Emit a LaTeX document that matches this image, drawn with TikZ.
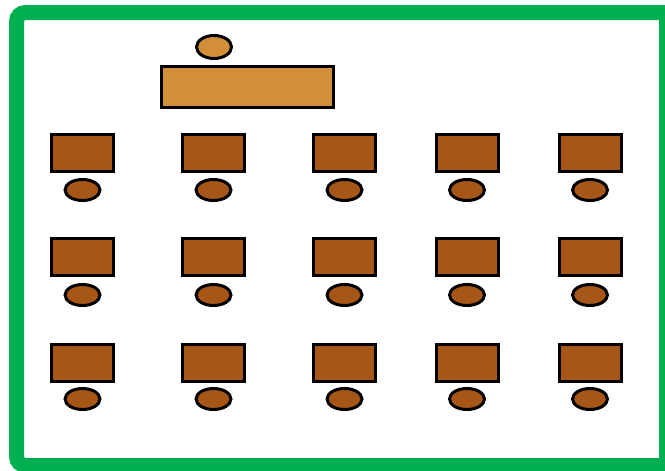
\documentclass[tikz,border=0pt]{standalone}
\usetikzlibrary{shapes.geometric}
\definecolor{boardgreen}{RGB}{0,176,80}
\definecolor{deskbrown}{RGB}{166,86,23}
\definecolor{teachertan}{RGB}{211,143,56}
\tikzset{
  desk/.style={draw=black, line width=3pt, fill=deskbrown, rectangle, inner sep=0pt, minimum width=62pt, minimum height=37pt},
  chair/.style={draw=black, line width=3pt, fill=deskbrown, ellipse, inner sep=0pt, minimum width=35pt, minimum height=21pt},
  tdesk/.style={draw=black, line width=3pt, fill=teachertan, rectangle, inner sep=0pt, minimum width=172pt, minimum height=41pt},
  tchair/.style={draw=black, line width=3pt, fill=teachertan, ellipse, inner sep=0pt, minimum width=35pt, minimum height=23pt},
  wall/.style={draw=boardgreen, line width=15pt}
}
\begin{document}
\begin{tikzpicture}[x=1pt, y=-1pt]
\useasboundingbox (0,0) rectangle (665,471);
\fill[white] (0,0) rectangle (665,471);
\draw[wall] (680,12.5) -- (680,12.5) [rounded corners=0pt] -- (666,12.5) -- (666,465.5) -- (680,465.5);
\draw[wall] (666,12.5) [rounded corners=9pt] -- (16.5,12.5) -- (16.5,465.5) [rounded corners=0pt] -- (666,465.5);
\node[tchair] (tc) at (214,47) {};
\node[tdesk] (td) at (247.5,87) {};
\foreach \c/\x in {1/82.5,2/213.5,3/344.5,4/467,5/590}{
  \foreach \r/\dy/\cy in {1/153/190,2/257/295,3/362.5/399}{
    \node[desk] (d\r\c) at (\x,\dy) {};
    \node[chair] (c\r\c) at (\x,\cy) {};
  }
}
\end{tikzpicture}
\end{document}
